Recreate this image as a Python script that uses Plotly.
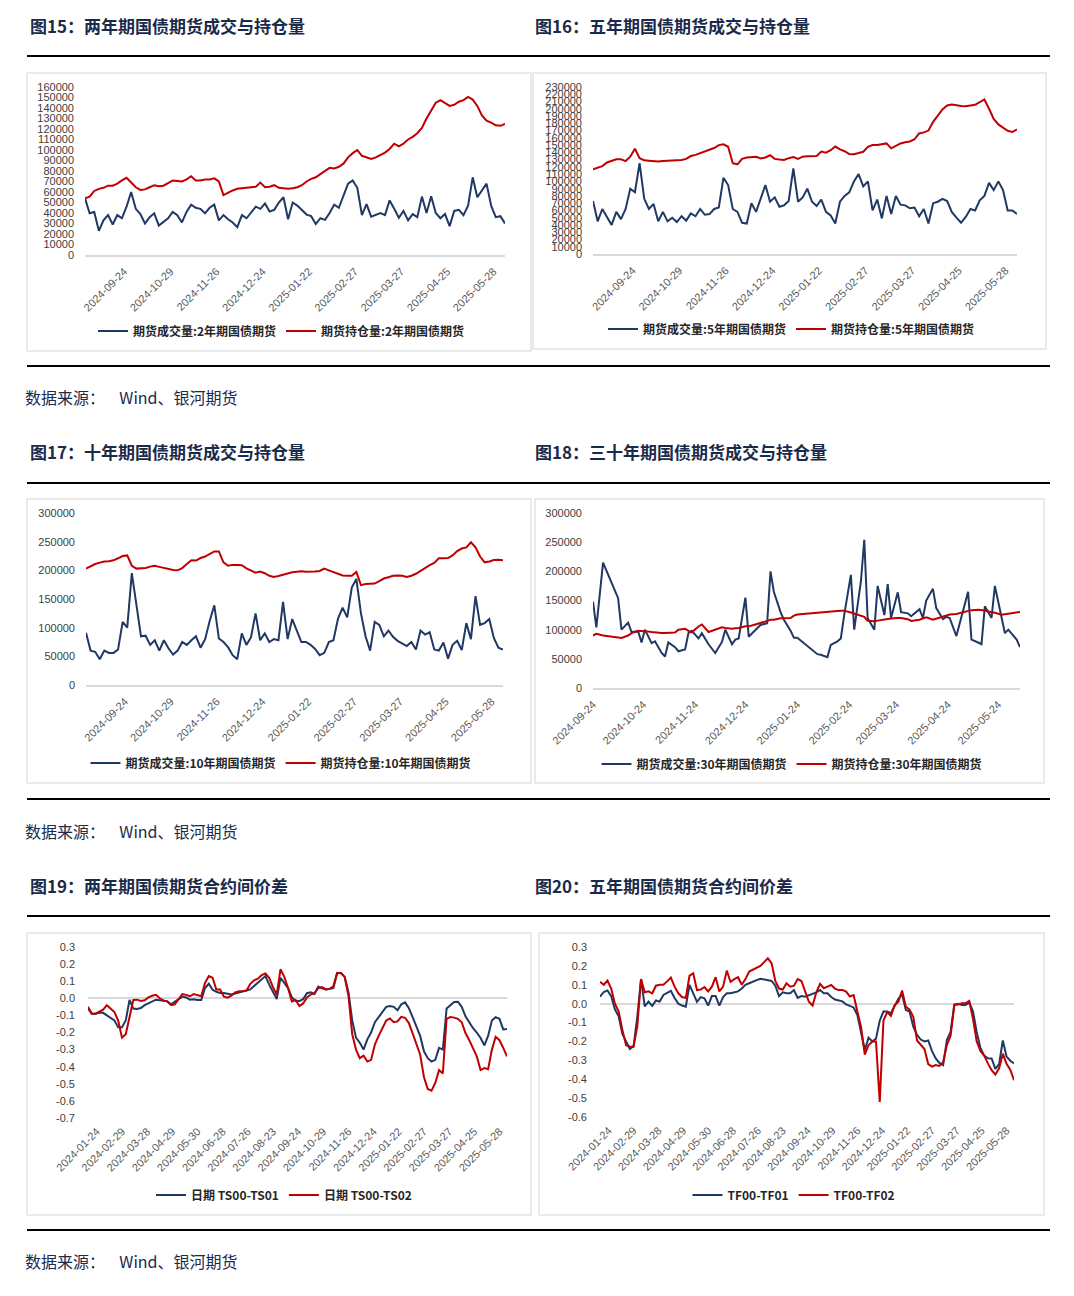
import pandas as pd
import plotly.graph_objects as go

W, H = 1074, 1296
NAVY = '#203864'
RED = '#C00000'
TXT = '#1B2A4A'

# ---------------- trading calendar (China futures holidays) ----------------
HOLIDAYS = ['2024-01-01', '2024-02-09', '2024-02-12', '2024-02-13', '2024-02-14', '2024-02-15',
            '2024-02-16', '2024-04-04', '2024-04-05', '2024-05-01', '2024-05-02', '2024-05-03',
            '2024-06-10', '2024-09-16', '2024-09-17', '2024-10-01', '2024-10-02', '2024-10-03',
            '2024-10-04', '2024-10-07', '2025-01-01', '2025-01-28', '2025-01-29', '2025-01-30',
            '2025-01-31', '2025-02-03', '2025-02-04', '2025-04-04', '2025-05-01', '2025-05-02',
            '2025-05-05', '2025-06-02']


def trading_days(start, end):
    hol = set(pd.to_datetime(HOLIDAYS))
    return [d.strftime('%Y-%m-%d') for d in pd.bdate_range(start, end) if d not in hol]


CAL_A = trading_days('2024-08-28', '2025-06-05')   # 图15-17
CAL_B = trading_days('2024-09-24', '2025-06-06')   # 图18
CAL_C = trading_days('2024-01-15', '2025-06-06')   # 图19-20
X_A = CAL_A[::2]
X_B = CAL_B[::2]
X_C = CAL_C[::3]

# ---------------- tick labels ----------------
TICKS_A = ['2024-09-24', '2024-10-29', '2024-11-26', '2024-12-24', '2025-01-22',
           '2025-02-27', '2025-03-27', '2025-04-25', '2025-05-28']
TICKS_B = ['2024-09-24', '2024-10-24', '2024-11-24', '2024-12-24', '2025-01-24',
           '2025-02-24', '2025-03-24', '2025-04-24', '2025-05-24']
TICKS_C = ['2024-01-24', '2024-02-29', '2024-03-28', '2024-04-29', '2024-05-30', '2024-06-28',
           '2024-07-26', '2024-08-23', '2024-09-24', '2024-10-29', '2024-11-26', '2024-12-24',
           '2025-01-22', '2025-02-27', '2025-03-27', '2025-04-25', '2025-05-28']
Y19_VALS = [0.3, 0.2, 0.1, 0.0, -0.1, -0.2, -0.3, -0.4, -0.5, -0.6, -0.7]
Y19_TEXT = ['0.3', '0.2', '0.1', '0.0', '-0.1', '-0.2', '-0.3', '-0.4', '-0.5', '-0.6', '-0.7']
Y20_VALS = [0.3, 0.2, 0.1, 0.0, -0.1, -0.2, -0.3, -0.4, -0.5, -0.6]
Y20_TEXT = ['0.3', '0.2', '0.1', '0.0', '-0.1', '-0.2', '-0.3', '-0.4', '-0.5', '-0.6']

# ---------------- data (thousand lots) ----------------
TS_VOL = [54, 39.7, 41, 23, 33, 38, 29, 38, 35, 46, 60, 44, 39, 30, 36, 39.7, 28, 31.7, 35, 41,
          38, 31, 41, 48, 45, 44, 39.7, 45, 48, 33, 38, 34, 31, 26.5, 38, 35, 40, 46, 44, 49,
          41.5, 43, 50, 55, 34, 50, 47, 43, 38.5, 37, 29.5, 35, 33.5, 40, 48, 45, 57, 68, 71, 64,
          38, 48.5, 36.5, 38, 40, 38, 52, 44, 35.5, 42, 33, 39, 36, 55.6, 40, 56, 40, 35, 39, 27.5,
          42, 43, 38, 47, 74, 55, 61, 68, 47, 36, 37, 30]
TS_OI = [54, 55.5, 61, 63, 64, 66, 66, 68, 71, 73.5, 69, 64.5, 62, 62.5, 64.5, 66.5, 65.5, 66, 68.5, 71,
         70.5, 70, 72, 75, 71, 71, 72, 72, 73, 70, 57, 59.5, 61.5, 63, 63.5, 64, 65, 65, 69, 64.5,
         65, 66.5, 64, 63.5, 63, 63.5, 64.5, 66.5, 70, 72.5, 74, 77, 80, 83, 82.5, 84, 87, 93, 97, 100,
         94.5, 93, 91.5, 93, 95.5, 97.5, 101, 106, 103.5, 106, 110, 112.5, 116, 121, 130, 138, 145,
         147.5, 145, 142, 143, 146, 147.5, 150.5, 148, 142, 133, 128, 126, 123.5, 123, 124.8]

TF_VOL = [73, 45, 62, 50, 40, 58, 48, 62, 90, 85, 125, 76, 62, 69, 45, 58, 45, 50, 44, 52,
          46, 56, 52, 62, 54, 55, 62, 64, 105, 95, 62, 58, 43, 42, 70, 58, 78, 95, 72, 78,
          65, 67, 73, 118, 72, 78, 90, 72, 66, 75, 58, 53, 42, 72, 80, 85, 100, 110, 93, 100,
          60, 75, 49, 80, 55, 80, 68, 67, 63, 64, 52, 62, 42, 70, 72, 76, 73, 58, 50, 43,
          51, 62, 60, 74, 80, 98, 88, 100, 88, 60, 60, 55]
TF_OI = [116.5, 118.5, 121, 126, 128, 130.5, 130.5, 128, 134, 145, 132, 129, 128.5, 127.5, 127.5,
         128, 128.5, 129, 129.4, 129.4, 131, 134.9, 136.5, 139, 141.5, 143, 146, 150, 151, 147.7,
         125, 123.5, 131, 133, 133.5, 134, 131.5, 133, 136, 131, 130, 129.4, 132, 133.5, 131, 134,
         134.5, 134.9, 135, 141, 139.5, 143, 148, 144, 141.5, 137.6, 137.5, 139, 140.8, 147.7, 150,
         150, 151, 152.3, 145.5, 149, 152.3, 154, 155, 158, 166, 167.5, 170, 182, 191, 199, 204.5,
         206, 205, 203.7, 203.5, 204, 205.5, 209, 212.8, 200, 186, 178.5, 173.5, 169.7, 168, 171.6]

T_VOL = [91, 60, 58, 45, 60, 56, 56, 62, 110, 100, 195, 135, 85, 86, 70, 78, 60, 78, 64, 53,
         60, 75, 70, 78, 85, 65, 80, 112, 139, 81, 75, 66, 52, 45, 90, 70, 83, 125, 78, 90,
         75, 80, 78, 145, 80, 115, 95, 75, 75, 70, 63, 52, 56, 75, 78, 116, 135, 118, 170, 185,
         125, 85, 60, 110, 105, 85, 95, 84, 77, 72, 68, 75, 62, 95, 88, 92, 62, 60, 74, 46,
         70, 77, 61, 108, 80, 155, 105, 108, 115, 82, 65, 62]
T_OI = [203, 207, 211, 213.5, 215.5, 216, 217.5, 221, 225, 226, 208, 203, 203, 204, 206.5, 208, 206,
        204, 202, 200.5, 200, 204, 211, 217.5, 217, 221.5, 224, 229, 233, 233, 214, 208, 209.5,
        209.5, 209, 203.5, 199.5, 196, 198, 195, 190.5, 188.5, 190, 192.5, 194, 196.5, 197.5,
        198.5, 197.5, 197.3, 198, 199, 203, 200, 197, 193.3, 191, 190.4, 190.4, 197.3, 174.1, 176,
        177, 177, 181, 185.7, 188, 190.4, 191, 190.5, 188.6, 190.5, 194, 199.5, 204.5, 209, 213,
        221, 221, 221.5, 226, 233.5, 238, 240, 249, 240, 224, 214, 215.5, 218, 218.5, 217.6]

TL_VOL = [148, 104, 215, 154, 100, 112, 96, 97, 78, 100, 77, 80, 60, 54, 78, 70, 63, 66, 94, 98,
          85, 94, 75, 68, 60, 79, 100, 75, 83, 85, 155, 88, 100, 108, 111, 200, 165, 130, 117, 98,
          86, 86, 58, 57, 53, 74, 80, 85, 125, 194, 100, 183, 254, 120, 100, 175, 125, 178, 120,
          164, 130, 128, 123, 135, 120, 150, 170, 137, 118, 122, 120, 89, 165, 83, 78, 75, 140,
          120, 175, 120, 94, 100, 83, 70]
TL_OI = [90, 93, 90, 85.7, 85.7, 90, 94, 98, 98, 97.5, 96, 95, 94.3, 94.3, 94.3, 95, 100, 101.7, 98,
         95.5, 105.5, 109, 96, 98, 100, 104, 103, 101.7, 102.5, 103, 105.7, 105.7, 109, 111, 115, 117,
         117, 119.5, 120, 120, 124, 126, 128.8, 129.5, 131, 131.5, 132, 132.5, 132.6, 129.5, 127.5,
         124.5, 122, 115.4, 114.3, 115.5, 117.5, 118.5, 119, 120, 120, 118, 115, 117, 119, 121, 117,
         119, 122, 125, 126, 127, 132.5, 133.5, 134.3, 134, 133, 130, 129, 125.7, 126.5, 128, 130.3,
         130.3]

# ---------------- calendar spreads ----------------
TS01 = [-0.06, -0.09, -0.09, -0.085, -0.085, -0.1, -0.12, -0.13, -0.17, -0.17,
        -0.13, -0.01, -0.06, -0.062, -0.057, -0.04, -0.03, -0.018, -0.008, -0.012,
        -0.016, -0.018, -0.035, -0.02, -0.002, 0.01, 0.005, -0.008, -0.005, -0.01,
        -0.01, 0.06, 0.085, 0.05, 0.038, 0.031, 0.031, 0.026, 0.022, 0.028,
        0.034, 0.04, 0.045, 0.052, 0.072, 0.093, 0.109, 0.13, 0.08, 0.035,
        -0.004, 0.12, 0.09, 0.06, 0.005, -0.015, -0.016, -0.005, 0.03, 0.035,
        0.025, 0.068, 0.058, 0.052, 0.055, 0.06, 0.148, 0.148, 0.125, 0.035,
        -0.13, -0.23, -0.26, -0.3, -0.24, -0.2, -0.14, -0.11, -0.085, -0.05,
        -0.045, -0.05, -0.07, -0.035, -0.024, -0.058, -0.11, -0.17, -0.22, -0.31,
        -0.35, -0.37, -0.36, -0.29, -0.3, -0.06, -0.04, -0.022, -0.02, -0.05,
        -0.105, -0.14, -0.175, -0.2, -0.232, -0.275, -0.22, -0.13, -0.11, -0.12,
        -0.182, -0.18]
TS02 = [-0.05, -0.09, -0.09, -0.08, -0.066, -0.04, -0.06, -0.08, -0.13, -0.23,
        -0.21, -0.10, -0.01, -0.008, -0.016, -0.012, 0.005, 0.015, 0.02, 0.0,
        -0.012, -0.018, -0.04, -0.035, -0.004, 0.025, 0.02, 0.012, 0.025, 0.02,
        0.012, 0.09, 0.13, 0.12, 0.051, 0.051, 0.01, 0.004, 0.015, 0.035,
        0.041, 0.041, 0.045, 0.085, 0.105, 0.115, 0.135, 0.145, 0.12, 0.065,
        0.021, 0.17, 0.125, 0.06, -0.018, -0.01, -0.045, -0.03, 0.005, 0.022,
        0.03, 0.06, 0.065, 0.052, 0.055, 0.07, 0.148, 0.148, 0.125, 0.015,
        -0.21, -0.3, -0.35, -0.335, -0.37, -0.36, -0.27, -0.22, -0.175, -0.13,
        -0.118, -0.14, -0.135, -0.108, -0.114, -0.145, -0.205, -0.27, -0.33, -0.46,
        -0.53, -0.54, -0.495, -0.42, -0.44, -0.12, -0.109, -0.113, -0.12, -0.14,
        -0.203, -0.245, -0.29, -0.34, -0.42, -0.408, -0.415, -0.3, -0.225, -0.245,
        -0.29, -0.34]
TF01 = [0.037, 0.062, 0.07, 0.04, -0.03, -0.067, -0.16, -0.2, -0.24, -0.225,
        -0.07, 0.13, -0.014, 0.011, -0.012, 0.017, 0.011, 0.046, 0.055, 0.068,
        0.03, 0.0, -0.01, -0.016, 0.1, 0.055, 0.01, 0.035, 0.028, -0.01,
        0.04, 0.04, -0.01, 0.035, 0.055, 0.055, 0.058, 0.065, 0.08, 0.1,
        0.108, 0.118, 0.125, 0.132, 0.128, 0.125, 0.12, 0.095, 0.04, 0.06,
        0.055, 0.055, 0.072, 0.03, 0.04, 0.037, 0.045, 0.05, 0.06, 0.072,
        0.055, 0.055, 0.035, 0.022, 0.017, 0.012, -0.004, -0.01, -0.02, -0.06,
        -0.16, -0.245, -0.18, -0.2, -0.185, -0.09, -0.042, -0.042, -0.05, -0.01,
        0.026, 0.05, -0.034, -0.042, -0.122, -0.165, -0.19, -0.2, -0.195, -0.25,
        -0.29, -0.314, -0.325, -0.192, -0.15, -0.005, 0.0, -0.007, -0.007, 0.005,
        -0.04, -0.15, -0.235, -0.275, -0.289, -0.29, -0.345, -0.32, -0.195, -0.28,
        -0.302, -0.316]
TF02 = [0.116, 0.1, 0.122, 0.08, 0.0, -0.04, -0.14, -0.22, -0.228, -0.228,
        -0.12, 0.13, 0.06, 0.065, 0.055, 0.095, 0.1, 0.1, 0.118, 0.138,
        0.09, 0.055, 0.035, 0.03, 0.148, 0.16, 0.072, 0.075, 0.088, 0.065,
        0.09, 0.14, 0.065, 0.09, 0.175, 0.115, 0.13, 0.14, 0.1, 0.13,
        0.17, 0.18, 0.187, 0.2, 0.22, 0.24, 0.215, 0.12, 0.08, 0.075,
        0.108, 0.09, 0.095, 0.13, 0.12, 0.06, 0.01, -0.01, 0.06, 0.105,
        0.082, 0.09, 0.099, 0.08, 0.072, 0.072, 0.064, 0.038, 0.045, -0.04,
        -0.125, -0.27, -0.22, -0.2, -0.2, -0.52, -0.09, -0.045, -0.065, -0.008,
        0.01, 0.07, -0.016, -0.032, -0.07, -0.195, -0.22, -0.24, -0.32, -0.333,
        -0.325, -0.33, -0.31, -0.22, -0.17, -0.007, -0.005, 0.002, 0.002, 0.015,
        -0.08, -0.2, -0.25, -0.275, -0.316, -0.352, -0.375, -0.342, -0.265, -0.318,
        -0.35, -0.405]


def k(vals):
    return [v * 1000 for v in vals]


def px(x):
    return x / W


def py(y):
    return 1 - y / H


FONT_NUM = 'Liberation Sans, Arial, sans-serif'
FONT_CJK = 'Noto Sans CJK SC, sans-serif'

fig = go.Figure()


def line(x, y, name, color, ax, lg):
    fig.add_trace(go.Scatter(x=x, y=y, name=name, mode='lines',
                             line=dict(color=color, width=2),
                             xaxis='x' + ax, yaxis='y' + ax, legend=lg))


line(X_A, k(TS_VOL), '期货成交量:2年期国债期货', NAVY, '', 'legend')
line(X_A, k(TS_OI), '期货持仓量:2年期国债期货', RED, '', 'legend')
line(X_A, k(TF_VOL), '期货成交量:5年期国债期货', NAVY, '2', 'legend2')
line(X_A, k(TF_OI), '期货持仓量:5年期国债期货', RED, '2', 'legend2')
line(X_A, k(T_VOL), '期货成交量:10年期国债期货', NAVY, '3', 'legend3')
line(X_A, k(T_OI), '期货持仓量:10年期国债期货', RED, '3', 'legend3')
line(X_B, k(TL_VOL), '期货成交量:30年期国债期货', NAVY, '4', 'legend4')
line(X_B, k(TL_OI), '期货持仓量:30年期国债期货', RED, '4', 'legend4')
line(X_C, TS01, '日期 TS00-TS01', NAVY, '5', 'legend5')
line(X_C, TS02, '日期 TS00-TS02', RED, '5', 'legend5')
line(X_C, TF01, 'TF00-TF01', NAVY, '6', 'legend6')
line(X_C, TF02, 'TF00-TF02', RED, '6', 'legend6')


def xcat(x0, x1, cal, ticks, anchor, show_line=True):
    return dict(domain=[px(x0), px(x1)], anchor=anchor, type='category', automargin=False,
                categoryorder='array', categoryarray=cal, range=[0, len(cal) - 1],
                tickmode='array', tickvals=ticks, ticktext=ticks, tickangle=-45,
                showgrid=False, zeroline=False, showline=show_line, linecolor='#D9D9D9',
                linewidth=1.5, ticks='', ticklabelstandoff=4,
                tickfont=dict(family=FONT_NUM, size=11, color='#595959'))


def ynum(y0, y1, rng, dtick, anchor):
    return dict(domain=[py(y1), py(y0)], anchor=anchor, range=rng, dtick=dtick, tick0=0,
                automargin=False, tickformat='d', showgrid=False, zeroline=False,
                showline=False, ticks='', ticklabelstandoff=10,
                tickfont=dict(family=FONT_NUM, size=11, color='#404040'))


def ysp(y0, y1, rng, vals, text, anchor):
    return dict(domain=[py(y1), py(y0)], anchor=anchor, range=rng, tickmode='array',
                automargin=False, tickvals=vals, ticktext=text, showgrid=False, zeroline=True,
                zerolinecolor='#D9D9D9', zerolinewidth=1.5, showline=False, ticks='',
                ticklabelstandoff=12, tickfont=dict(family=FONT_NUM, size=11, color='#404040'))


xaxis4 = dict(domain=[px(593), px(1020)], anchor='y4', type='date', automargin=False,
              range=['2024-09-24', '2025-06-06'], tickmode='array', tickvals=TICKS_B,
              tickformat='%Y-%m-%d', tickangle=-45, showgrid=False, zeroline=False,
              showline=True, linecolor='#D9D9D9', linewidth=1.5, ticks='', ticklabelstandoff=4,
              tickfont=dict(family=FONT_NUM, size=11, color='#595959'))


def legend(xc, yc):
    return dict(x=px(xc), y=py(yc), xanchor='center', yanchor='middle', orientation='h',
                bgcolor='rgba(0,0,0,0)', itemwidth=30, tracegroupgap=0,
                font=dict(family=FONT_CJK, size=12, color='#262626', weight='bold'))


shapes = []
for yy in [56, 366, 483, 799, 916, 1230]:
    shapes.append(dict(type='line', xref='paper', yref='paper', x0=px(27), x1=px(1050),
                       y0=py(yy), y1=py(yy), line=dict(color='black', width=2)))
for (x0, y0, x1, y1) in [(27, 73, 531, 351), (533, 73, 1046, 349), (27, 499, 531, 783),
                         (535, 499, 1044, 783), (27, 933, 531, 1215), (539, 933, 1044, 1215)]:
    shapes.append(dict(type='rect', xref='paper', yref='paper', x0=px(x0), x1=px(x1),
                       y0=py(y1), y1=py(y0), line=dict(color='#E3E3E3', width=1.5)))

annotations = []
TITLES = [(28, 25, '图15：两年期国债期货成交与持仓量'), (533, 25, '图16：五年期国债期货成交与持仓量'),
          (28, 451, '图17：十年期国债期货成交与持仓量'), (533, 451, '图18：三十年期国债期货成交与持仓量'),
          (28, 885, '图19：两年期国债期货合约间价差'), (533, 885, '图20：五年期国债期货合约间价差')]
for (x, y, t) in TITLES:
    annotations.append(dict(xref='paper', yref='paper', x=px(x), y=py(y), xanchor='left',
                            yanchor='middle', showarrow=False, text=t,
                            font=dict(family=FONT_CJK, size=17, color=TXT, weight='bold')))
for y in [397, 831, 1261]:
    annotations.append(dict(xref='paper', yref='paper', x=px(23), y=py(y), xanchor='left',
                            yanchor='middle', showarrow=False,
                            text='数据来源：\u00a0\u00a0\u00a0\u00a0Wind、银河期货',
                            font=dict(family=FONT_CJK, size=16, color=TXT)))

fig.update_layout(
    template='none',
    width=W, height=H, margin=dict(l=0, r=0, t=0, b=0, pad=0, autoexpand=False),
    paper_bgcolor='white', plot_bgcolor='white', showlegend=True,
    xaxis=xcat(85, 505, CAL_A, TICKS_A, 'y'),
    yaxis=ynum(87, 255, [0, 160000], 10000, 'x'),
    xaxis2=xcat(593, 1017, CAL_A, TICKS_A, 'y2'),
    yaxis2=ynum(87, 254, [0, 230000], 10000, 'x2'),
    xaxis3=xcat(86, 503, CAL_A, TICKS_A, 'y3'),
    yaxis3=ynum(513, 685, [0, 300000], 50000, 'x3'),
    xaxis4=xaxis4,
    yaxis4=ynum(513, 688, [0, 300000], 50000, 'x4'),
    xaxis5=xcat(88, 507, CAL_C, TICKS_C, 'y5', show_line=False),
    yaxis5=ysp(947, 1118, [-0.7, 0.3], Y19_VALS, Y19_TEXT, 'x5'),
    xaxis6=xcat(600, 1014, CAL_C, TICKS_C, 'y6', show_line=False),
    yaxis6=ysp(947, 1117, [-0.6, 0.3], Y20_VALS, Y20_TEXT, 'x6'),
    legend=legend(281, 331), legend2=legend(791, 329), legend3=legend(281, 763),
    legend4=legend(792, 764), legend5=legend(284, 1195), legend6=legend(794, 1195),
    shapes=shapes, annotations=annotations,
)

fig.write_html('out.html', config={'displayModeBar': False},
               post_script="document.body.style.margin='0px';")
